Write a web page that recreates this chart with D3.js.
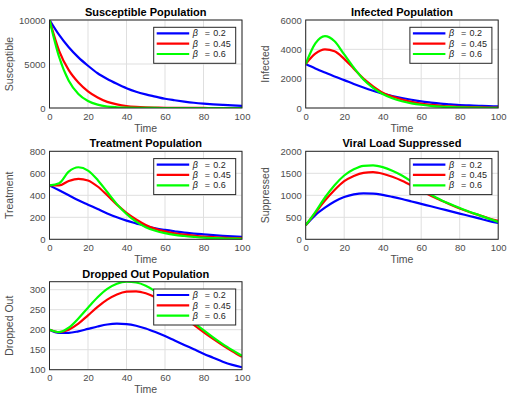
<!DOCTYPE html>
<html>
<head>
<meta charset="utf-8">
<script src="https://cdn.jsdelivr.net/npm/d3@7"></script>
<style>
  body { margin: 0; background: #fff; }
  text { font-family: "Liberation Sans", Arial, sans-serif; }
</style>
</head>
<body>
<div id="chart"></div>
<script>
// time points
const time = [0, 5, 10, 15, 20, 25, 30, 35, 40, 45, 50, 55, 60, 65, 70, 75, 80, 85, 90, 95, 100];
const betas = ['0.2', '0.45', '0.6'];
const colors = ['#0000ff', '#ff0000', '#00ff00'];

// Susceptible
const susBlue = [10000, 8300, 6900, 5750, 4800, 3950, 3300, 2750, 2250, 1850, 1550, 1300, 1050, 880, 730, 600, 500, 420, 350, 290, 240];
const susRed = [10000, 6500, 4300, 2900, 1900, 1200, 700, 420, 230, 130, 75, 45, 25, 15, 10, 5, 3, 2, 1, 1, 0];
const susGreen = [10000, 5800, 3100, 1600, 800, 380, 170, 80, 35, 15, 8, 4, 2, 1, 0, 0, 0, 0, 0, 0, 0];

// Infected
const infBlue = [3000, 2700, 2420, 2150, 1900, 1640, 1400, 1180, 980, 820, 680, 560, 450, 370, 300, 250, 200, 175, 150, 130, 110];
const infRed = [3000, 3700, 4000, 3870, 3350, 2680, 2000, 1480, 1050, 780, 580, 420, 300, 220, 150, 110, 80, 60, 45, 35, 25];
const infGreen = [3000, 4400, 4900, 4550, 3650, 2750, 1950, 1380, 950, 660, 460, 320, 220, 150, 100, 70, 48, 33, 22, 15, 10];

// Treatment
const trtBlue = [490, 445, 400, 355, 315, 275, 235, 200, 170, 145, 120, 100, 85, 72, 60, 52, 45, 38, 32, 27, 22];
const trtRed = [490, 490, 530, 550, 535, 480, 400, 315, 240, 180, 130, 95, 72, 55, 42, 33, 25, 20, 15, 12, 10];
const trtGreen = [490, 510, 615, 655, 625, 540, 430, 320, 230, 160, 110, 78, 56, 40, 30, 22, 15, 11, 8, 6, 5];

// Viral load suppressed
const supBlue = [320, 550, 720, 860, 960, 1020, 1045, 1040, 1010, 965, 915, 860, 805, 750, 695, 640, 585, 530, 475, 420, 370];
const supRed = [320, 600, 880, 1120, 1320, 1440, 1510, 1525, 1490, 1420, 1330, 1220, 1100, 990, 890, 790, 700, 620, 550, 480, 420];
const supGreen = [320, 620, 950, 1230, 1450, 1590, 1670, 1680, 1640, 1560, 1450, 1310, 1150, 1020, 900, 800, 710, 625, 550, 470, 395];

// Dropped out
const dropBlue = [200, 192, 192, 196, 202, 208, 213, 215, 214, 210, 203, 194, 184, 173, 162, 151, 140, 130, 120, 112, 106];
const dropRed = [200, 194, 200, 215, 236, 257, 275, 288, 295, 296, 291, 281, 267, 250, 231, 212, 194, 177, 161, 146, 132];
const dropGreen = [200, 194, 205, 228, 255, 281, 302, 315, 320, 318, 310, 296, 278, 258, 238, 218, 199, 181, 164, 149, 135];

const xTicks = [0, 20, 40, 60, 80, 100];

const panels = [
  { title: 'Susceptible Population', ylabel: 'Susceptible', series: [susBlue, susRed, susGreen],
    ydom: [0, 10000], yticks: [0, 5000, 10000], col: 0, row: 0 },
  { title: 'Infected Population', ylabel: 'Infected', series: [infBlue, infRed, infGreen],
    ydom: [0, 6000], yticks: [0, 2000, 4000, 6000], col: 1, row: 0 },
  { title: 'Treatment Population', ylabel: 'Treatment', series: [trtBlue, trtRed, trtGreen],
    ydom: [0, 800], yticks: [0, 200, 400, 600, 800], col: 0, row: 1 },
  { title: 'Viral Load Suppressed', ylabel: 'Suppressed', series: [supBlue, supRed, supGreen],
    ydom: [0, 2000], yticks: [0, 500, 1000, 1500, 2000], col: 1, row: 1 },
  { title: 'Dropped Out Population', ylabel: 'Dropped Out', series: [dropBlue, dropRed, dropGreen],
    ydom: [100, 320], yticks: [100, 150, 200, 250, 300], col: 0, row: 2 }
];

const colX = [49.5, 305.7];
const rowY = [20, 151.3, 281.7];
const pw = 192.5, ph = 88;

const svg = d3.select('#chart').append('svg')
  .attr('width', 509)
  .attr('height', 395);

panels.forEach(function(p, k) {
  const g = svg.append('g')
    .attr('transform', 'translate(' + colX[p.col] + ',' + rowY[p.row] + ')');

  const x = d3.scaleLinear().domain([0, 100]).range([0, pw]);
  const y = d3.scaleLinear().domain(p.ydom).range([ph, 0]);

  g.append('rect')
    .attr('width', pw).attr('height', ph)
    .attr('fill', '#fff');

  // grid
  g.selectAll('.gx').data(xTicks).enter().append('line')
    .attr('x1', d => x(d)).attr('x2', d => x(d))
    .attr('y1', 0).attr('y2', ph)
    .attr('stroke', '#dfdfdf').attr('stroke-width', 1);
  g.selectAll('.gy').data(p.yticks).enter().append('line')
    .attr('x1', 0).attr('x2', pw)
    .attr('y1', d => y(d)).attr('y2', d => y(d))
    .attr('stroke', '#dfdfdf').attr('stroke-width', 1);

  g.append('clipPath').attr('id', 'clip' + k)
    .append('rect').attr('width', pw).attr('height', ph);

  const line = d3.line()
    .x((d, i) => x(time[i]))
    .y(d => y(d))
    .curve(d3.curveMonotoneX);

  g.append('g').attr('clip-path', 'url(#clip' + k + ')')
    .selectAll('path').data(p.series).enter().append('path')
    .attr('d', d => line(d))
    .attr('fill', 'none')
    .attr('stroke', (d, i) => colors[i])
    .attr('stroke-width', 2.2);

  // axes
  const xAxis = g.append('g').attr('transform', 'translate(0,' + ph + ')')
    .call(d3.axisBottom(x).tickValues(xTicks).tickFormat(d3.format('d')).tickSize(0).tickPadding(5));
  const yAxis = g.append('g')
    .call(d3.axisLeft(y).tickValues(p.yticks).tickFormat(d3.format('d')).tickSize(0).tickPadding(4));
  [xAxis, yAxis].forEach(function(a) {
    a.select('.domain').remove();
    a.selectAll('text')
      .attr('font-family', '"Liberation Sans", Arial, sans-serif')
      .attr('font-size', 9.5)
      .attr('fill', '#4d4d4d');
  });

  g.append('rect')
    .attr('width', pw).attr('height', ph)
    .attr('fill', 'none')
    .attr('stroke', '#262626').attr('stroke-width', 1);

  g.append('text')
    .attr('x', pw / 2).attr('y', -4)
    .attr('text-anchor', 'middle')
    .attr('font-size', 11).attr('font-weight', 'bold')
    .attr('fill', '#000')
    .text(p.title);

  g.append('text')
    .attr('x', pw / 2).attr('y', ph + 23.5)
    .attr('text-anchor', 'middle')
    .attr('font-size', 10.5).attr('fill', '#4d4d4d')
    .text('Time');

  g.append('text')
    .attr('transform', 'translate(-37,' + (ph / 2) + ') rotate(-90)')
    .attr('text-anchor', 'middle')
    .attr('font-size', 10.5).attr('fill', '#4d4d4d')
    .text(p.ylabel);

  // legend
  const lg = g.append('g').attr('transform', 'translate(' + (pw - 88.3) + ',7.3)');
  lg.append('rect')
    .attr('width', 82).attr('height', 36)
    .attr('fill', '#fff')
    .attr('stroke', '#262626').attr('stroke-width', 1);
  betas.forEach(function(b, i) {
    const yy = 6 + i * 10.35;
    lg.append('line')
      .attr('x1', 3).attr('x2', 35.5)
      .attr('y1', yy).attr('y2', yy)
      .attr('stroke', colors[i]).attr('stroke-width', 2.2);
    lg.append('text')
      .attr('x', 39).attr('y', yy + 3.2)
      .attr('font-size', 9).attr('font-style', 'italic').attr('fill', '#262626')
      .text('\u03B2');
    lg.append('text')
      .attr('x', 51).attr('y', yy + 3.2)
      .attr('font-size', 9).attr('fill', '#262626')
      .text('=');
    lg.append('text')
      .attr('x', 59.5).attr('y', yy + 3.2)
      .attr('font-size', 9).attr('fill', '#262626')
      .text(b);
  });
});
</script>
</body>
</html>
